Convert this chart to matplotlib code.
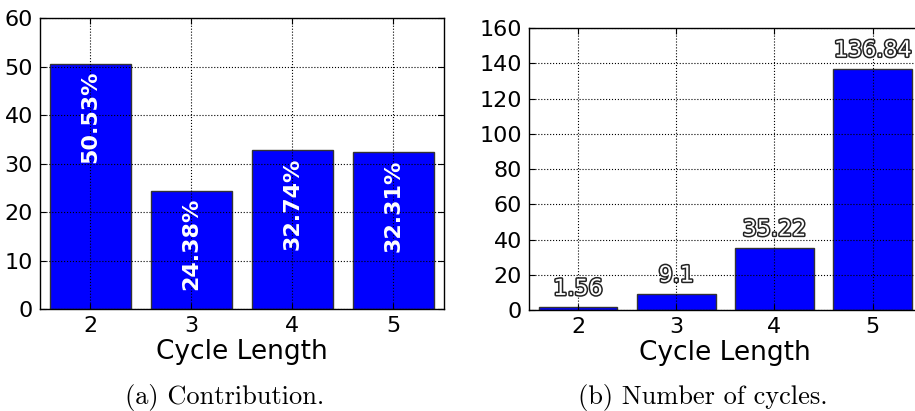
import matplotlib
matplotlib.use("Agg")
import matplotlib.pyplot as plt
import matplotlib.patheffects as pe

cycle_lengths = [2, 3, 4, 5]
contribution = [50.53, 24.38, 32.74, 32.31]
num_cycles = [1.56, 9.1, 35.22, 136.84]
contrib_labels = ["50.53%", "24.38%", "32.74%", "32.31%"]
count_labels = ["1.56", "9.1", "35.22", "136.84"]
left_yticks = [0, 10, 20, 30, 40, 50, 60]
right_yticks = [0, 20, 40, 60, 80, 100, 120, 140, 160]

plt.rcParams["font.family"] = "DejaVu Sans"

fig = plt.figure(figsize=(9.15, 4.11), dpi=100)
ax1 = fig.add_axes([0.0437, 0.248, 0.4415, 0.708])
ax2 = fig.add_axes([0.578, 0.2457, 0.4295, 0.686])


def style_axes(ax, yticks):
    ax.set_xlim(1.5, 5.5)
    ax.set_ylim(yticks[0], yticks[-1])
    ax.set_xticks(cycle_lengths)
    ax.set_yticks(yticks)
    ax.tick_params(direction="in", top=True, right=True, labelsize=16,
                   length=4, width=0.8, pad=5)
    ax.grid(True, color="k", linestyle=":", linewidth=0.8)
    ax.set_axisbelow(False)
    ax.set_xlabel("Cycle Length", fontsize=19, labelpad=2)
    for s in ax.spines.values():
        s.set_linewidth(1.0)


# (a) contribution per cycle length
ax1.bar(cycle_lengths, contribution, width=0.8, color="#0000ff",
        edgecolor="#333333", linewidth=1.0)
style_axes(ax1, left_yticks)
for x, h, lab in zip(cycle_lengths, contribution, contrib_labels):
    ax1.annotate(lab, (x, h), xytext=(0, -5), textcoords="offset points",
                 rotation=90, ha="center", va="top", color="white",
                 fontsize=16, fontweight="bold", zorder=5)

# (b) number of cycles
ax2.bar(cycle_lengths, num_cycles, width=0.8, color="#0000ff",
        edgecolor="#333333", linewidth=1.0)
style_axes(ax2, right_yticks)
for x, h, lab in zip(cycle_lengths, num_cycles, count_labels):
    ax2.annotate(lab, (x, h), xytext=(0, 6), textcoords="offset points",
                 ha="center", va="bottom", color="white", fontsize=16,
                 zorder=5, annotation_clip=False,
                 path_effects=[pe.withStroke(linewidth=2.2, foreground="#222222")])

fig.text(0.245, 0.034, "(a) Contribution.", ha="center", va="center",
         fontsize=19, family="cmr10")
fig.text(0.768, 0.034, "(b) Number of cycles.", ha="center", va="center",
         fontsize=19, family="cmr10")

fig.savefig("out.png", dpi=100)
